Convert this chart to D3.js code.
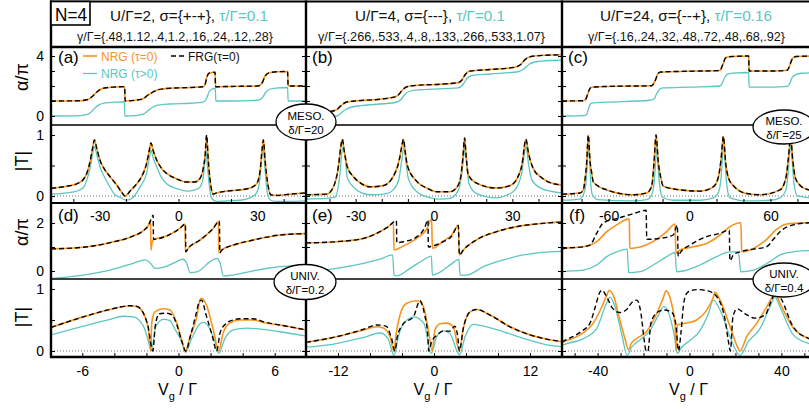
<!DOCTYPE html>
<html><head><meta charset="utf-8">
<script src="https://cdn.jsdelivr.net/npm/d3@7"></script>
<style>
body{margin:0;background:#fff}
svg text{font-family:"Liberation Sans",Arial,Helvetica,sans-serif}
</style>
</head><body>
<svg id="c" width="809" height="409"></svg>
<script>
// ---------------- DATA ----------------
const headerParams = ["U/Γ=2, σ={+-+}, ", "U/Γ=4, σ={---}, ", "U/Γ=24, σ={--+}, "];
const headerTau = ["τ/Γ=0.1", "τ/Γ=0.1", "τ/Γ=0.16"];
const gammaLines = ["γ/Γ={.48,1.12,.4,1.2,.16,.24,.12,.28}", "γ/Γ={.266,.533,.4,.8,.133,.266,.533,1.07}", "γ/Γ={.16,.24,.32,.48,.72,.48,.68,.92}"];
const panelLetters = ["(a)", "(b)", "(c)", "(d)", "(e)", "(f)"];
const mesoBadges = ["δ/Γ=20", "δ/Γ=25"];
const univBadges = ["δ/Γ=0.2", "δ/Γ=0.4"];
const legendLabels = ["NRG (τ=0)", "FRG(τ=0)", "NRG (τ>0)"];

const mesoDomains = [[-48.5, 48.5], [-49, 49], [-94.5, 94.5]];
const univDomains = [[-7.95, 7.95], [-16, 16], [-55.5, 55.5]];
const mesoTicks = [[-40, -20, 0, 20, 40], [-40, -30, -20, -10, 0, 10, 20, 30, 40], [-80, -60, -40, -20, 0, 20, 40, 60, 80]];
const mesoTickLabels = [[-30, 0, 30], [-30, 0, 30], [-60, 0, 60]];
const univTicks = [[-6, -4, -2, 0, 2, 4, 6], [-12, -8, -4, 0, 4, 8, 12], [-50, -40, -30, -20, -10, 0, 10, 20, 30, 40, 50]];
const univTickLabels = [[-6, 0, 6], [-12, 0, 12], [-40, 0, 40]];
const alphaMesoTicks = [0, 1, 2, 3, 4], alphaMesoLabels = [0, 4];
const alphaUnivTicks = [0, 1, 2], alphaUnivLabels = [0, 2];
const tTicks = [0, 0.5, 1], tLabels = [0, 1];

// (a) meso
const a_alpha_nrg = [[-48.5,1.0],[-37.5,1.02],[-34.4,1.1],[-32.5,1.35],[-31.4,1.55],[-29.9,1.75],[-27.6,1.88],[-24.2,1.93],[-20.5,1.96],[-20.3,1.0],[-16.5,1.05],[-13.5,1.15],[-11.6,1.4],[-9.7,1.6],[-7.8,1.75],[-3.2,1.85],[4.4,1.9],[9.3,1.95],[10.1,2.1],[10.8,2.6],[11.6,2.85],[13.9,2.92],[14.1,1.95],[19.6,1.97],[30.2,2.0],[31.8,2.2],[32.9,2.65],[34.4,2.88],[37.8,2.95],[41.5,2.97],[41.7,2.0],[48.5,2.0]];
const a_alpha_frg = a_alpha_nrg.map(d => d.slice());
const a_alpha_tau = [[-48.5,0.0],[-37.5,0.03],[-34.4,0.12],[-32.5,0.4],[-31.4,0.6],[-29.9,0.78],[-27.6,0.88],[-24.2,0.92],[-20.6,0.95],[-20.4,0.0],[-16.5,0.02],[-13.5,0.12],[-11.6,0.35],[-9.7,0.6],[-7.8,0.72],[-3.2,0.8],[4.4,0.85],[9.3,0.92],[10.5,1.1],[11.6,1.6],[12.8,1.8],[14.0,1.85],[14.2,1.0],[20,1.0],[30,1.05],[31.8,1.2],[33.3,1.6],[35,1.8],[38,1.88],[41.5,1.9],[41.7,1.0],[48.5,1.0]];
const a_t_nrg = [[-48.5,0.126],[-42.5,0.16],[-38.7,0.2],[-36.2,0.27],[-34.9,0.37],[-33.7,0.55],[-32.6,0.8],[-32.0,0.92],[-31.1,0.78],[-29.9,0.59],[-28.0,0.43],[-26.1,0.32],[-23.5,0.18],[-21.6,0.06],[-20.3,0.0],[-18.4,0.08],[-15.9,0.2],[-14.0,0.32],[-12.1,0.54],[-11.1,0.75],[-10.5,0.87],[-9.6,0.74],[-8.3,0.59],[-6.4,0.45],[-4.5,0.37],[-0.7,0.28],[3.1,0.23],[6.3,0.23],[8.2,0.29],[9.4,0.45],[10.1,0.65],[10.7,1.0],[11.3,0.6],[12.2,0.2],[13.2,0.03],[14.5,0.05],[18.3,0.08],[23.4,0.1],[27.2,0.13],[29.7,0.2],[31.0,0.4],[31.9,0.8],[32.3,0.92],[32.9,0.6],[33.8,0.25],[35.1,0.02],[37.4,0.01],[42.4,0.03],[48.5,0.05]];
const a_t_frg = a_t_nrg.map(d => d.slice());
const a_t_tau = [[-48.5,0.03],[-42.5,0.05],[-38.7,0.08],[-36.2,0.14],[-34.9,0.26],[-33.7,0.45],[-32.6,0.7],[-32.0,0.81],[-31.1,0.68],[-29.9,0.48],[-28.0,0.3],[-26.1,0.15],[-24.4,0.03],[-22.3,-0.02],[-19.7,-0.07],[-17.2,-0.02],[-14.6,0.15],[-12.1,0.38],[-11.1,0.62],[-10.5,0.75],[-9.6,0.62],[-8.3,0.48],[-6.4,0.3],[-4.5,0.2],[-0.7,0.12],[3.1,0.08],[6.3,0.1],[8.2,0.15],[9.4,0.3],[10.1,0.6],[10.5,0.75],[11.0,0.5],[11.9,0.1],[12.8,-0.05],[14.5,-0.09],[18.3,-0.08],[23.4,-0.07],[27.2,-0.03],[29.7,0.05],[31.0,0.3],[31.8,0.7],[32.2,0.78],[32.9,0.45],[33.8,0.05],[35.1,-0.07],[37.4,-0.09],[42.4,-0.09],[48.5,-0.08]];

// (b) meso
const b_alpha_nrg = [[-49,0.22],[-43.6,0.26],[-39.8,0.3],[-37.5,0.4],[-36.4,0.55],[-35.2,0.75],[-33.7,0.92],[-30.2,1.0],[-20.7,1.12],[-14.9,1.28],[-13.4,1.45],[-12.3,1.7],[-10.7,1.92],[-8.4,2.02],[2.3,2.12],[9.2,2.22],[10.7,2.4],[11.9,2.75],[13.4,2.98],[21.4,3.1],[31.0,3.25],[33.3,3.45],[34.8,3.75],[36.8,3.95],[42.5,4.05],[49,4.08]];
const b_alpha_frg = b_alpha_nrg.map(d => d.slice());
const b_alpha_tau = [[-49,-0.05],[-39.8,-0.03],[-37.2,0.0],[-35.6,0.2],[-33.7,0.45],[-31.4,0.6],[-24.5,0.75],[-14.9,0.9],[-12.6,1.1],[-11.1,1.45],[-9.2,1.65],[-5.4,1.75],[9.2,1.88],[11.1,2.1],[12.6,2.5],[14.5,2.7],[21.4,2.8],[32.2,2.95],[34.5,3.15],[36.4,3.45],[38.7,3.6],[44.4,3.7],[49,3.72]];
const b_t_nrg = [[-49,0.02],[-41.1,0.03],[-38.5,0.15],[-36.6,0.48],[-35.7,0.8],[-35.1,0.93],[-34.3,0.72],[-33.2,0.48],[-30.9,0.32],[-27.7,0.2],[-24.5,0.15],[-19.4,0.17],[-15.6,0.32],[-13.3,0.59],[-12.4,0.8],[-11.7,0.93],[-11.1,0.75],[-10.2,0.5],[-6.6,0.24],[-2.8,0.13],[1.0,0.07],[6.1,0.07],[8.7,0.14],[10.2,0.3],[11.1,0.65],[11.7,0.95],[12.3,0.65],[13.1,0.35],[16.3,0.21],[24,0.13],[29.1,0.17],[32.3,0.33],[34,0.6],[34.7,0.85],[35.2,0.93],[36.1,0.72],[38,0.45],[41.2,0.3],[44.4,0.22],[49,0.18]];
const b_t_frg = b_t_nrg.map(d => d.slice());
const b_t_tau = [[-49,-0.05],[-41.1,-0.04],[-37.9,-0.02],[-36,0.37],[-35.3,0.7],[-34.7,0.82],[-33.9,0.6],[-33.2,0.3],[-30.9,0.15],[-27.7,0.05],[-24.5,0.02],[-18.1,0.04],[-15.6,0.1],[-13.6,0.25],[-12.3,0.6],[-11.5,0.8],[-10.7,0.55],[-9.9,0.3],[-6.6,0.07],[-1.3,-0.03],[2.6,-0.05],[6.1,-0.04],[9.4,0.1],[10.6,0.36],[11.5,0.7],[11.9,0.8],[12.6,0.5],[13.4,0.2],[16.3,0.04],[24,-0.03],[28.1,0.02],[31,0.1],[33.6,0.38],[34.7,0.72],[35.3,0.82],[36.1,0.55],[37.5,0.26],[41.2,0.12],[44.4,0.08],[49,0.05]];

// (c) meso
const c_alpha_nrg = [[-94.5,1.0],[-78.7,1.02],[-76.7,1.15],[-75.5,1.45],[-74.3,1.75],[-72.5,1.92],[-61.4,1.97],[-28,2.02],[-26.3,2.2],[-24.8,2.5],[-23.6,2.8],[-21.3,2.93],[-2.1,2.98],[22.6,3.03],[24.1,3.3],[25.4,3.6],[26.5,3.85],[28.8,3.95],[43.9,4.0],[44.1,3.0],[62.1,3.0],[72.5,3.05],[74,3.3],[75.2,3.6],[76.5,3.85],[79,3.97],[94.5,4.0]];
const c_alpha_frg = c_alpha_nrg.map(d => d.slice());
const c_alpha_tau = [[-94.5,0.0],[-78.7,0.02],[-76.2,0.1],[-75,0.45],[-73.8,0.75],[-71.8,0.87],[-61.4,0.92],[-29.3,1.05],[-26.1,1.15],[-24.3,1.5],[-22.5,1.75],[-19.8,1.87],[0,1.93],[22.6,2.0],[24.8,2.3],[26.3,2.6],[28,2.78],[32,2.86],[43.9,2.9],[44.1,1.93],[62,1.93],[72.5,1.98],[74.5,2.2],[76,2.55],[78.5,2.75],[83,2.85],[94.5,2.88]];
const c_t_nrg = [[-94.5,0.03],[-81.2,0.05],[-78.7,0.1],[-77.5,0.26],[-76.2,0.55],[-75,1.0],[-73.8,0.59],[-72.5,0.38],[-71.3,0.23],[-61.4,0.1],[-41.7,0.02],[-31.7,0.05],[-28,0.16],[-26.3,0.55],[-24.8,1.0],[-23.1,0.55],[-21.3,0.3],[-19.4,0.16],[-7,0.1],[7.8,0.08],[17.6,0.15],[21.3,0.3],[23.4,0.6],[25.1,0.98],[26.8,0.55],[28.8,0.3],[32.5,0.17],[42.4,0.04],[52.3,0.02],[67.1,0.1],[71.5,0.3],[73.2,0.6],[75,0.95],[76.5,0.6],[78.4,0.3],[83.2,0.15],[88.6,0.1],[94.5,0.08]];
const c_t_frg = c_t_nrg.map(d => d.slice());
const c_t_tau = [[-94.5,-0.07],[-81.2,-0.05],[-77.5,0.1],[-76.2,0.35],[-75.3,0.7],[-74.8,0.85],[-74,0.6],[-73.2,0.2],[-72,0.02],[-68,-0.06],[-41.7,-0.08],[-31.7,-0.06],[-28,0.02],[-26.3,0.2],[-25,0.6],[-24.3,0.85],[-23.5,0.55],[-22,0.15],[-20,-0.02],[-12,-0.07],[7.8,-0.07],[17.6,-0.03],[21.3,0.05],[23.4,0.3],[24.7,0.7],[25.5,0.85],[26.5,0.5],[28,0.12],[30,-0.03],[42.4,-0.08],[60,-0.07],[67.1,-0.03],[71.5,0.1],[73.2,0.4],[74.8,0.85],[76,0.6],[77.5,0.2],[80,0.0],[94.5,-0.04]];

// (d) universal
const d_alpha_nrg = [[-7.95,0.92],[-5.94,0.99],[-4.27,1.18],[-2.82,1.46],[-2.19,1.68],[-1.88,1.9],[-1.74,2.08],[-1.72,0.87],[-1.67,1.1],[-1.57,1.3],[-0.74,1.46],[0.09,1.78],[0.41,1.96],[0.43,0.8],[0.61,0.95],[1.34,1.29],[2.17,1.78],[2.49,2.06],[2.51,0.76],[2.69,0.88],[3.42,1.08],[4.66,1.29],[6.33,1.5],[7.95,1.56]];
const d_alpha_frg = [[-7.95,0.92],[-5.94,0.99],[-4.27,1.18],[-2.82,1.46],[-2.19,1.68],[-1.88,1.9],[-1.73,2.12],[-1.58,2.33],[-1.56,1.32],[-0.74,1.46],[0.09,1.78],[0.43,1.96],[0.46,0.8],[0.61,0.95],[1.34,1.29],[2.17,1.78],[2.55,2.08],[2.58,0.76],[2.69,0.86],[3.42,1.08],[4.66,1.29],[6.33,1.5],[7.95,1.56]];
const d_alpha_tau = [[-7.95,-0.31],[-5.94,-0.17],[-4.27,0.04],[-2.82,0.32],[-2.09,0.46],[-1.74,0.32],[-1.47,0.11],[-0.95,0.15],[-0.11,0.39],[0.26,0.49],[0.51,0.32],[0.72,-0.07],[1.14,-0.04],[1.97,0.39],[2.39,0.53],[2.6,0.32],[2.8,-0.21],[3.42,-0.17],[4.66,0.01],[6.33,0.18],[7.95,0.25]];
const d_t_nrg = [[-7.95,0.38],[-5.94,0.55],[-4.27,0.67],[-3.02,0.73],[-2.61,0.72],[-2.19,0.61],[-1.88,0.34],[-1.73,0.0],[-1.67,0.45],[-1.47,0.63],[-0.95,0.68],[-0.53,0.66],[-0.11,0.45],[0.2,0.18],[0.43,0.0],[0.72,0.23],[1.14,0.55],[1.34,0.82],[1.45,0.85],[1.76,0.73],[2.17,0.34],[2.51,0.0],[2.77,0.28],[3.18,0.45],[3.8,0.5],[4.63,0.5],[5.46,0.45],[6.3,0.42],[7.95,0.34]];
const d_t_frg = [[-7.95,0.38],[-5.94,0.55],[-4.27,0.67],[-3.02,0.73],[-2.61,0.72],[-2.19,0.61],[-1.9,0.4],[-1.6,0.0],[-1.45,0.4],[-1.2,0.6],[-0.74,0.61],[-0.4,0.58],[-0.1,0.42],[0.2,0.16],[0.45,0.0],[0.75,0.25],[1.1,0.6],[1.3,0.8],[1.45,0.82],[1.7,0.6],[2.1,0.25],[2.38,0.0],[2.6,0.3],[3.0,0.45],[3.42,0.5],[3.8,0.52],[4.63,0.52],[5.46,0.46],[6.3,0.42],[7.95,0.34]];
const d_t_tau = [[-7.95,0.26],[-5.94,0.4],[-4.27,0.51],[-3.44,0.56],[-2.82,0.55],[-2.19,0.4],[-1.82,0.1],[-1.72,0.0],[-1.57,0.15],[-1.42,0.39],[-0.95,0.51],[-0.53,0.49],[-0.22,0.35],[0.2,0.15],[0.44,-0.02],[0.82,0.2],[1.34,0.44],[1.55,0.46],[1.86,0.4],[2.27,0.15],[2.51,-0.04],[2.89,0.2],[3.42,0.34],[4.25,0.37],[5.5,0.34],[6.33,0.31],[7.95,0.24]];

// (e) universal
const e_alpha_nrg = [[-16,1.17],[-12.2,1.22],[-8.8,1.36],[-6.75,1.64],[-5.7,1.85],[-5.08,2.01],[-5.0,0.875],[-3.83,1.04],[-2.17,1.36],[-0.92,1.74],[-0.29,2.15],[-0.21,0.95],[1.17,1.25],[2.21,1.5],[3.04,1.9],[3.17,0.67],[3.67,0.875],[5.33,1.3],[7.83,1.64],[10.33,1.85],[12.83,1.96],[14.5,2.01],[16,2.04]];
const e_alpha_frg = [[-16,1.17],[-12.2,1.22],[-8.8,1.36],[-6.75,1.64],[-5.7,1.85],[-4.7,2.1],[-4.65,1.18],[-3.83,1.22],[-2.17,1.42],[-1.2,1.78],[-0.75,2.12],[-0.71,1.0],[-0.3,1.03],[1.17,1.22],[2.21,1.45],[3.04,1.9],[3.17,0.67],[3.67,0.875],[5.33,1.3],[7.83,1.64],[10.33,1.85],[12.83,1.96],[14.5,2.01],[16,2.04]];
const e_alpha_tau = [[-16,-0.04],[-12.2,0.11],[-8.8,0.32],[-6.75,0.49],[-5.17,0.67],[-5.0,-0.17],[-4.6,-0.2],[-3.0,0.11],[-1.33,0.46],[-0.33,0.62],[-0.2,-0.17],[0.33,-0.12],[2.0,0.25],[2.9,0.46],[3.12,0.49],[3.25,-0.17],[4.08,-0.17],[6.17,0.18],[8.67,0.46],[11.17,0.67],[14.5,0.8],[16,0.82]];
const e_t_nrg = [[-16,0.14],[-12.2,0.23],[-8.8,0.34],[-7.17,0.39],[-6.33,0.37],[-5.5,0.23],[-5.0,0.0],[-4.75,0.26],[-4.25,0.58],[-3.42,0.77],[-2.17,0.81],[-1.33,0.72],[-0.71,0.34],[-0.21,0.0],[0.12,0.34],[0.75,0.44],[1.58,0.45],[2.42,0.39],[3.17,0.0],[3.67,0.37],[4.5,0.63],[5.33,0.67],[7.0,0.58],[9.5,0.39],[12.0,0.26],[14.5,0.18],[16,0.15]];
const e_t_frg = [[-16,0.14],[-12.2,0.23],[-8.8,0.35],[-7.17,0.42],[-6.0,0.4],[-5.3,0.2],[-4.88,0.0],[-4.6,0.22],[-3.83,0.44],[-2.58,0.55],[-1.75,0.81],[-1.2,0.6],[-0.75,0.2],[-0.67,0.0],[-0.3,0.15],[0.33,0.25],[1.17,0.32],[2.0,0.32],[2.6,0.4],[3.0,0.2],[3.17,0.0],[3.67,0.37],[4.5,0.63],[5.33,0.67],[7.0,0.58],[9.5,0.39],[12.0,0.26],[14.5,0.18],[16,0.15]];
const e_t_tau = [[-16,0.06],[-12.2,0.12],[-8.8,0.22],[-6.75,0.29],[-5.75,0.2],[-5.0,-0.07],[-4.46,0.23],[-3.8,0.44],[-2.5,0.55],[-1.25,0.44],[-0.35,-0.04],[0.33,0.23],[1.2,0.33],[2.0,0.28],[3.2,-0.06],[3.88,0.23],[4.9,0.43],[6.2,0.4],[8.7,0.31],[12.0,0.17],[14.5,0.09],[16,0.07]];

// (f) universal
const f_alpha_nrg = [[-55.5,0.93],[-54.9,0.94],[-46.2,1.01],[-40.4,1.22],[-36,1.64],[-31.7,1.92],[-26.2,2.17],[-26.0,0.94],[-21.5,1.0],[-14.3,1.32],[-9.9,1.64],[-6.3,1.96],[-5.9,0.74],[-4.1,0.875],[1.7,1.01],[7.5,1.15],[13.3,1.5],[17.6,1.85],[22.4,2.01],[22.7,0.8],[27.8,0.94],[33.6,1.32],[38,1.74],[42.3,1.96],[52,2.01],[55.5,2.02]];
const f_alpha_frg = [[-55.5,0.93],[-54.9,0.94],[-46.2,1.01],[-43.3,1.08],[-40.4,1.57],[-37.5,2.01],[-31.7,2.18],[-24.5,2.39],[-18.9,2.53],[-18.6,1.32],[-12.8,1.36],[-7.1,1.5],[-5.3,1.9],[-4.9,0.6],[-4.1,0.75],[0.2,1.08],[7.5,1.43],[13.3,1.57],[17.3,1.71],[17.6,0.43],[19.1,0.67],[22,0.8],[27.8,0.91],[33.6,1.01],[36.5,1.32],[39.4,1.64],[45.2,1.92],[52,2.01],[55.5,2.02]];
const f_alpha_tau = [[-55.5,-0.04],[-54.9,-0.03],[-46.2,0.04],[-40.4,0.25],[-36,0.6],[-31.7,0.8],[-27.1,0.91],[-26.5,-0.07],[-21.5,-0.03],[-15.8,0.25],[-9.9,0.6],[-6.3,0.77],[-5.6,-0.03],[-2.7,0.0],[4.6,0.25],[11.8,0.6],[17.6,0.8],[21.3,0.8],[22.3,-0.03],[27.8,0.04],[35,0.39],[39.4,0.67],[45.2,0.8],[52,0.85],[55.5,0.86]];
const f_t_nrg = [[-55.5,0.14],[-54.9,0.15],[-47.7,0.26],[-41.9,0.45],[-38.2,0.71],[-36,0.9],[-35,0.98],[-33.2,0.9],[-30.3,0.5],[-28.1,0.2],[-26.6,0.02],[-25.2,0.13],[-23,0.2],[-18.6,0.32],[-14.3,0.6],[-11.4,0.86],[-10.2,0.97],[-8.2,0.82],[-6.3,0.4],[-5.9,0.0],[-5.3,0.42],[-1.2,0.45],[3.1,0.5],[7.5,0.66],[10.4,0.87],[11.1,0.95],[13.3,0.82],[17.6,0.4],[20.5,0.1],[22,0.0],[24.9,0.23],[29.3,0.45],[33.6,0.71],[36.5,0.9],[37.2,0.93],[39.4,0.77],[45.2,0.37],[52,0.2],[55.5,0.17]];
const f_t_frg = [[-55.5,0.14],[-55.1,0.15],[-47.7,0.3],[-43.3,0.45],[-41.1,0.7],[-39,0.95],[-38.1,0.98],[-36.4,0.9],[-33.7,0.7],[-30.3,0.62],[-27.6,0.66],[-24.6,0.8],[-22.9,0.82],[-21.1,0.6],[-19.8,0.2],[-18.9,0.0],[-18.1,0.0],[-16.8,0.45],[-14.1,0.62],[-11.1,0.66],[-7.6,0.62],[-5.9,0.42],[-4.8,0.0],[-3.7,0.3],[-2.4,0.8],[-0.7,0.95],[3.3,0.99],[8.1,0.97],[12.4,0.85],[15.5,0.5],[17.2,0.1],[17.8,0.0],[18.9,0.55],[20.7,0.68],[24.2,0.6],[28.5,0.53],[32.9,0.58],[35.5,0.8],[37.7,0.95],[39.8,0.85],[45,0.4],[52,0.2],[55.5,0.17]];
const f_t_tau = [[-55.5,0.09],[-54.9,0.1],[-46.2,0.2],[-40.4,0.36],[-36.8,0.71],[-34.6,0.87],[-32.4,0.71],[-29.5,0.27],[-27.1,-0.07],[-25.2,0.06],[-21.5,0.18],[-17.2,0.33],[-13.6,0.57],[-11.1,0.72],[-8.5,0.55],[-6.3,0.18],[-5.3,-0.04],[-3.4,0.06],[0.2,0.17],[4.6,0.33],[8.2,0.6],[10.4,0.82],[13.3,0.66],[17.6,0.23],[22,-0.07],[25.6,0.15],[30.7,0.36],[35,0.71],[37.2,0.87],[39.4,0.71],[45.2,0.26],[52,0.12],[55.5,0.1]];

// ---------------- LAYOUT ----------------
const colX = [[51, 306], [306, 562], [562, 817]];
const rowY = {mA: [47, 125], mT: [125, 203], uA: [203, 279], uT: [279, 357]};
const yDomains = {mA: [-0.6, 4.6], mT: [-0.115, 1.164], uA: [-0.333, 2.833], uT: [-0.097, 1.161]};
const ORANGE = "#f7941d", TEAL = "#5cc6bf", BLACK = "#000";

const svg = d3.select("#c");
const yScale = {};
for (const k in rowY) yScale[k] = d3.scaleLinear().domain(yDomains[k]).range([rowY[k][1], rowY[k][0]]);
const xMeso = mesoDomains.map((d, i) => d3.scaleLinear().domain(d).range(colX[i]));
const xUniv = univDomains.map((d, i) => d3.scaleLinear().domain(d).range(colX[i]));

const defs = svg.append("defs");
const panels = [
  {c:0,r:"mA",x:xMeso[0],nrg:a_alpha_nrg,frg:a_alpha_frg,tau:a_alpha_tau},
  {c:0,r:"mT",x:xMeso[0],nrg:a_t_nrg,frg:a_t_frg,tau:a_t_tau},
  {c:1,r:"mA",x:xMeso[1],nrg:b_alpha_nrg,frg:b_alpha_frg,tau:b_alpha_tau},
  {c:1,r:"mT",x:xMeso[1],nrg:b_t_nrg,frg:b_t_frg,tau:b_t_tau},
  {c:2,r:"mA",x:xMeso[2],nrg:c_alpha_nrg,frg:c_alpha_frg,tau:c_alpha_tau},
  {c:2,r:"mT",x:xMeso[2],nrg:c_t_nrg,frg:c_t_frg,tau:c_t_tau},
  {c:0,r:"uA",x:xUniv[0],nrg:d_alpha_nrg,frg:d_alpha_frg,tau:d_alpha_tau},
  {c:0,r:"uT",x:xUniv[0],nrg:d_t_nrg,frg:d_t_frg,tau:d_t_tau},
  {c:1,r:"uA",x:xUniv[1],nrg:e_alpha_nrg,frg:e_alpha_frg,tau:e_alpha_tau},
  {c:1,r:"uT",x:xUniv[1],nrg:e_t_nrg,frg:e_t_frg,tau:e_t_tau},
  {c:2,r:"uA",x:xUniv[2],nrg:f_alpha_nrg,frg:f_alpha_frg,tau:f_alpha_tau},
  {c:2,r:"uT",x:xUniv[2],nrg:f_t_nrg,frg:f_t_frg,tau:f_t_tau}
];

panels.forEach((p, i) => {
  const [x0, x1] = colX[p.c], [y0, y1] = rowY[p.r];
  defs.append("clipPath").attr("id", "clip" + i).append("rect")
    .attr("x", x0 + 1).attr("y", y0 + 0.5).attr("width", x1 - x0 - 2).attr("height", y1 - y0 - 1);
  const y = yScale[p.r];
  const g = svg.append("g").attr("clip-path", `url(#clip${i})`);
  if (p.r === "mT" || p.r === "uT") {
    g.append("line").attr("x1", x0).attr("x2", x1).attr("y1", y(0)).attr("y2", y(0))
      .attr("stroke", "#444").attr("stroke-width", 0.8).attr("stroke-dasharray", "1,2");
  }
  const line = d3.line().x(d => p.x(d[0])).y(d => y(d[1])).curve(d3.curveMonotoneX);
  g.append("path").datum(p.tau).attr("d", line).attr("fill", "none").attr("stroke", TEAL).attr("stroke-width", 1.3);
  g.append("path").datum(p.nrg).attr("d", line).attr("fill", "none").attr("stroke", ORANGE).attr("stroke-width", 1.6);
  g.append("path").datum(p.frg).attr("d", line).attr("fill", "none").attr("stroke", BLACK).attr("stroke-width", 1.4).attr("stroke-dasharray", "5,3");
});

// ---------------- AXES ----------------
function clean(sel) {
  sel.select(".domain").remove();
  sel.selectAll(".tick line").attr("stroke", "#000").attr("stroke-width", 1);
  sel.selectAll(".tick text").attr("font-size", 14).attr("fill", "#000")
    .attr("font-family", "Liberation Sans, Arial, sans-serif");
}
const fmt = d => String(d);
const yTickSpec = {mA: [alphaMesoTicks, alphaMesoLabels], mT: [tTicks, tLabels], uA: [alphaUnivTicks, alphaUnivLabels], uT: [tTicks, tLabels]};
for (let c = 0; c < 3; c++) {
  for (const r in yTickSpec) {
    const [tv, lv] = yTickSpec[r];
    const x0 = colX[c][0];
    svg.append("g").attr("transform", `translate(${x0},0)`)
      .call(d3.axisLeft(yScale[r]).tickValues(tv).tickSize(-4).tickFormat("")).call(clean);
    if (c > 0) {
      svg.append("g").attr("transform", `translate(${x0},0)`)
        .call(d3.axisRight(yScale[r]).tickValues(tv).tickSize(-4).tickFormat("")).call(clean);
    } else {
      svg.append("g").attr("transform", `translate(${x0},0)`)
        .call(d3.axisLeft(yScale[r]).tickValues(lv).tickSize(0).tickPadding(7).tickFormat(fmt)).call(clean);
    }
  }
  // meso x axis (bottom of meso |T|)
  svg.append("g").attr("transform", `translate(0,${rowY.mT[1]})`)
    .call(d3.axisBottom(xMeso[c]).tickValues(mesoTicks[c]).tickSize(-4).tickFormat("")).call(clean);
  svg.append("g").attr("transform", `translate(0,${rowY.mT[1]})`)
    .call(d3.axisBottom(xMeso[c]).tickValues(mesoTickLabels[c]).tickSize(0).tickPadding(8).tickFormat(fmt)).call(clean);
  // univ x axis
  svg.append("g").attr("transform", `translate(0,${rowY.uT[1]})`)
    .call(d3.axisBottom(xUniv[c]).tickValues(univTicks[c]).tickSize(-4).tickFormat("")).call(clean);
  svg.append("g").attr("transform", `translate(0,${rowY.uT[1]})`)
    .call(d3.axisBottom(xUniv[c]).tickValues(univTickLabels[c]).tickSize(0).tickPadding(9).tickFormat(fmt)).call(clean);
  // x title
  const cx = (colX[c][0] + colX[c][1]) / 2 - 1;
  const t = svg.append("text").attr("x", cx).attr("y", 395).attr("text-anchor", "middle").attr("font-size", 16);
  t.append("tspan").text("V");
  t.append("tspan").attr("font-size", 11).attr("dy", 5).text("g");
  t.append("tspan").attr("dy", -5).text(" / Γ");
}

// ---------------- FRAME ----------------
const frame = svg.append("g").attr("stroke", "#000").attr("fill", "none");
const hLines = [[1.5, 2], [47, 2.4], [125, 1.3], [203, 2.2], [279, 1.3], [357, 2.4]];
hLines.forEach(([y, w]) => frame.append("line").attr("x1", 50).attr("x2", 817).attr("y1", y).attr("y2", y).attr("stroke-width", w));
[51, 306, 562].forEach(x => frame.append("line").attr("x1", x).attr("x2", x).attr("y1", 0.5).attr("y2", 358).attr("stroke-width", 2.4));

// ---------------- HEADERS ----------------
const hdrCenters = [189, 430, 686], hdrWidths = [158, 150, 172];
const gamCenters = [175, 431.5, 686.5], gamWidths = [196, 227, 197];
for (let c = 0; c < 3; c++) {
  const t = svg.append("text").attr("x", hdrCenters[c]).attr("y", 21).attr("text-anchor", "middle")
    .attr("font-size", 15).attr("textLength", hdrWidths[c]).attr("lengthAdjust", "spacingAndGlyphs");
  t.append("tspan").attr("fill", "#111").text(headerParams[c]);
  t.append("tspan").attr("fill", TEAL).text(headerTau[c]);
  svg.append("text").attr("x", gamCenters[c]).attr("y", 41).attr("text-anchor", "middle")
    .attr("font-size", 12.5).attr("textLength", gamWidths[c]).attr("lengthAdjust", "spacingAndGlyphs")
    .attr("fill", "#111").text(gammaLines[c]);
}
svg.append("rect").attr("x", 51).attr("y", 1.5).attr("width", 39).attr("height", 23.5)
  .attr("fill", "#fff").attr("stroke", "#000").attr("stroke-width", 1.6);
svg.append("text").attr("x", 71).attr("y", 20.5).attr("text-anchor", "middle").attr("font-size", 19)
  .attr("textLength", 32).attr("lengthAdjust", "spacingAndGlyphs").text("N=4");

// ---------------- PANEL LETTERS ----------------
const letterPos = [[58, 63], [312, 63], [568, 63], [58, 221], [312, 221], [569, 221]];
panelLetters.forEach((l, i) => svg.append("text").attr("x", letterPos[i][0]).attr("y", letterPos[i][1])
  .attr("font-size", 17).text(l));

// ---------------- Y TITLES ----------------
const yTitles = [["α/π", 77], ["|T|", 161], ["α/π", 232], ["|T|", 317]];
yTitles.forEach(([s, yc]) => svg.append("text").attr("transform", `translate(28,${yc}) rotate(-90)`)
  .attr("text-anchor", "middle").attr("font-size", 18).text(s));

// ---------------- LEGEND ----------------
const lg = svg.append("g");
lg.append("line").attr("x1", 83).attr("x2", 97).attr("y1", 56).attr("y2", 56).attr("stroke", ORANGE).attr("stroke-width", 1.6);
lg.append("text").attr("x", 101).attr("y", 60.5).attr("font-size", 12).attr("fill", ORANGE).text(legendLabels[0]);
lg.append("line").attr("x1", 171).attr("x2", 186).attr("y1", 56).attr("y2", 56).attr("stroke", BLACK).attr("stroke-width", 1.4).attr("stroke-dasharray", "5,3");
lg.append("text").attr("x", 188).attr("y", 60.5).attr("font-size", 12).attr("fill", "#111").text(legendLabels[1]);
lg.append("line").attr("x1", 83).attr("x2", 97).attr("y1", 73.5).attr("y2", 73.5).attr("stroke", TEAL).attr("stroke-width", 1.3);
lg.append("text").attr("x", 101).attr("y", 78).attr("font-size", 12).attr("fill", TEAL).text(legendLabels[2]);

// ---------------- BADGES ----------------
const badges = [
  {cx: 306, cy: 122, rx: 30, ry: 18, l1: "MESO.", l2: mesoBadges[0]},
  {cx: 784, cy: 127, rx: 31, ry: 17, l1: "MESO.", l2: mesoBadges[1]},
  {cx: 305, cy: 282, rx: 31, ry: 17.5, l1: "UNIV.", l2: univBadges[0]},
  {cx: 784, cy: 280, rx: 31, ry: 17, l1: "UNIV.", l2: univBadges[1]}
];
badges.forEach(b => {
  svg.append("ellipse").attr("cx", b.cx).attr("cy", b.cy).attr("rx", b.rx).attr("ry", b.ry)
    .attr("fill", "#fff").attr("stroke", "#000").attr("stroke-width", 1.3);
  svg.append("text").attr("x", b.cx).attr("y", b.cy - 2).attr("text-anchor", "middle").attr("font-size", 11.5).text(b.l1);
  svg.append("text").attr("x", b.cx).attr("y", b.cy + 12).attr("text-anchor", "middle").attr("font-size", 11.5).text(b.l2);
});
</script>
</body></html>
